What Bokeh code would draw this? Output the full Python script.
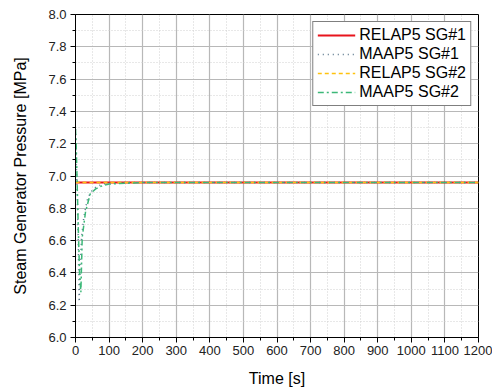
from bokeh.plotting import figure
from bokeh.models import Range1d, FixedTicker, Legend, LegendItem, NumeralTickFormatter
from bokeh.embed import file_html
from bokeh.resources import INLINE

# --- data ---
t_relap1 = [0, 1200]
p_relap1 = [6.96, 6.96]

t_maap1 = [0, 2, 5, 8, 11, 14, 18, 25, 35, 45, 60, 80, 100, 150, 200, 1200]
p_maap1 = [7.29, 7.10, 6.90, 6.60, 6.22, 6.45, 6.62, 6.75, 6.85, 6.90, 6.93, 6.95, 6.955, 6.96, 6.96, 6.96]

t_relap2 = [0, 1200]
p_relap2 = [6.96, 6.96]

t_maap2 = [0, 2, 5, 8, 12, 16, 20, 30, 44, 60, 80, 100, 150, 200, 1200]
p_maap2 = [7.29, 7.20, 6.95, 6.70, 6.40, 6.28, 6.62, 6.78, 6.89, 6.92, 6.94, 6.95, 6.955, 6.96, 6.96]

x_ticks = list(range(0, 1201, 100))
x_minor = list(range(50, 1200, 100))
y_ticks = [6.0, 6.2, 6.4, 6.6, 6.8, 7.0, 7.2, 7.4, 7.6, 7.8, 8.0]
y_minor = [6.1, 6.3, 6.5, 6.7, 6.9, 7.1, 7.3, 7.5, 7.7, 7.9]

FONT = "Liberation Sans"

p = figure(width=492, height=390, output_backend="svg", toolbar_location=None,
           x_range=Range1d(0, 1200), y_range=Range1d(6.0, 8.0),
           min_border_left=75, min_border_right=14, min_border_top=14, min_border_bottom=53)
p.outline_line_color = "black"
p.outline_line_width = 1

xt = FixedTicker(ticks=x_ticks, minor_ticks=x_minor)
yt = FixedTicker(ticks=y_ticks, minor_ticks=y_minor)

for ax in (p.xaxis[0], p.yaxis[0]):
    ax.axis_line_color = "black"
    ax.major_tick_line_color = "black"
    ax.minor_tick_line_color = "black"
    ax.major_tick_out = 5
    ax.major_tick_in = 0
    ax.minor_tick_out = 3
    ax.minor_tick_in = 0
    ax.major_label_text_font = FONT
    ax.major_label_text_font_size = "13px"
    ax.major_label_text_color = "#222222"
    ax.axis_label_text_font = FONT
    ax.axis_label_text_font_size = "16px"
    ax.axis_label_text_font_style = "normal"
    ax.axis_label_text_color = "black"

p.xaxis[0].ticker = xt
p.yaxis[0].ticker = yt
p.yaxis[0].formatter = NumeralTickFormatter(format="0.0")
p.xaxis[0].axis_label = "Time [s]"
p.yaxis[0].axis_label = "Steam Generator Pressure [MPa]"
p.xaxis[0].major_label_standoff = 3
p.yaxis[0].major_label_standoff = 4
p.xaxis[0].axis_label_standoff = 12
p.yaxis[0].axis_label_standoff = 16

p.xgrid[0].ticker = xt
p.ygrid[0].ticker = yt
for g in (p.xgrid[0], p.ygrid[0]):
    g.grid_line_color = "#b8b8b8"
    g.grid_line_width = 1.2
    g.minor_grid_line_color = "#d0d0d0"
    g.minor_grid_line_dash = "1 2"
    g.minor_grid_line_width = 1

r1 = p.line(t_relap1, p_relap1, line_color="#e8141c", line_width=2)
r2 = p.line(t_maap1, p_maap1, line_color="#56748a", line_width=1.5, line_dash="1 4")
r3 = p.line(t_relap2, p_relap2, line_color="#ffc20e", line_width=1.5, line_dash="4 3")
r4 = p.line(t_maap2, p_maap2, line_color="#3cb878", line_width=1.5, line_dash="6 3 2 3")

legend = Legend(items=[
    LegendItem(label="RELAP5 SG#1", renderers=[r1]),
    LegendItem(label="MAAP5 SG#1", renderers=[r2]),
    LegendItem(label="RELAP5 SG#2", renderers=[r3]),
    LegendItem(label="MAAP5 SG#2", renderers=[r4]),
], location="top_right")
legend.label_text_font = FONT
legend.label_text_font_size = "16px"
legend.label_text_color = "black"
legend.border_line_color = "black"
legend.border_line_width = 1
legend.background_fill_color = "white"
legend.background_fill_alpha = 1
legend.glyph_width = 38
legend.glyph_height = 18
legend.spacing = 1
legend.padding = 4
legend.margin = 7
legend.label_standoff = 4
legend.label_height = 18
p.add_layout(legend)

p.background_fill_color = "white"
p.border_fill_color = "white"

open("out.html", "w").write(file_html(p, INLINE))
